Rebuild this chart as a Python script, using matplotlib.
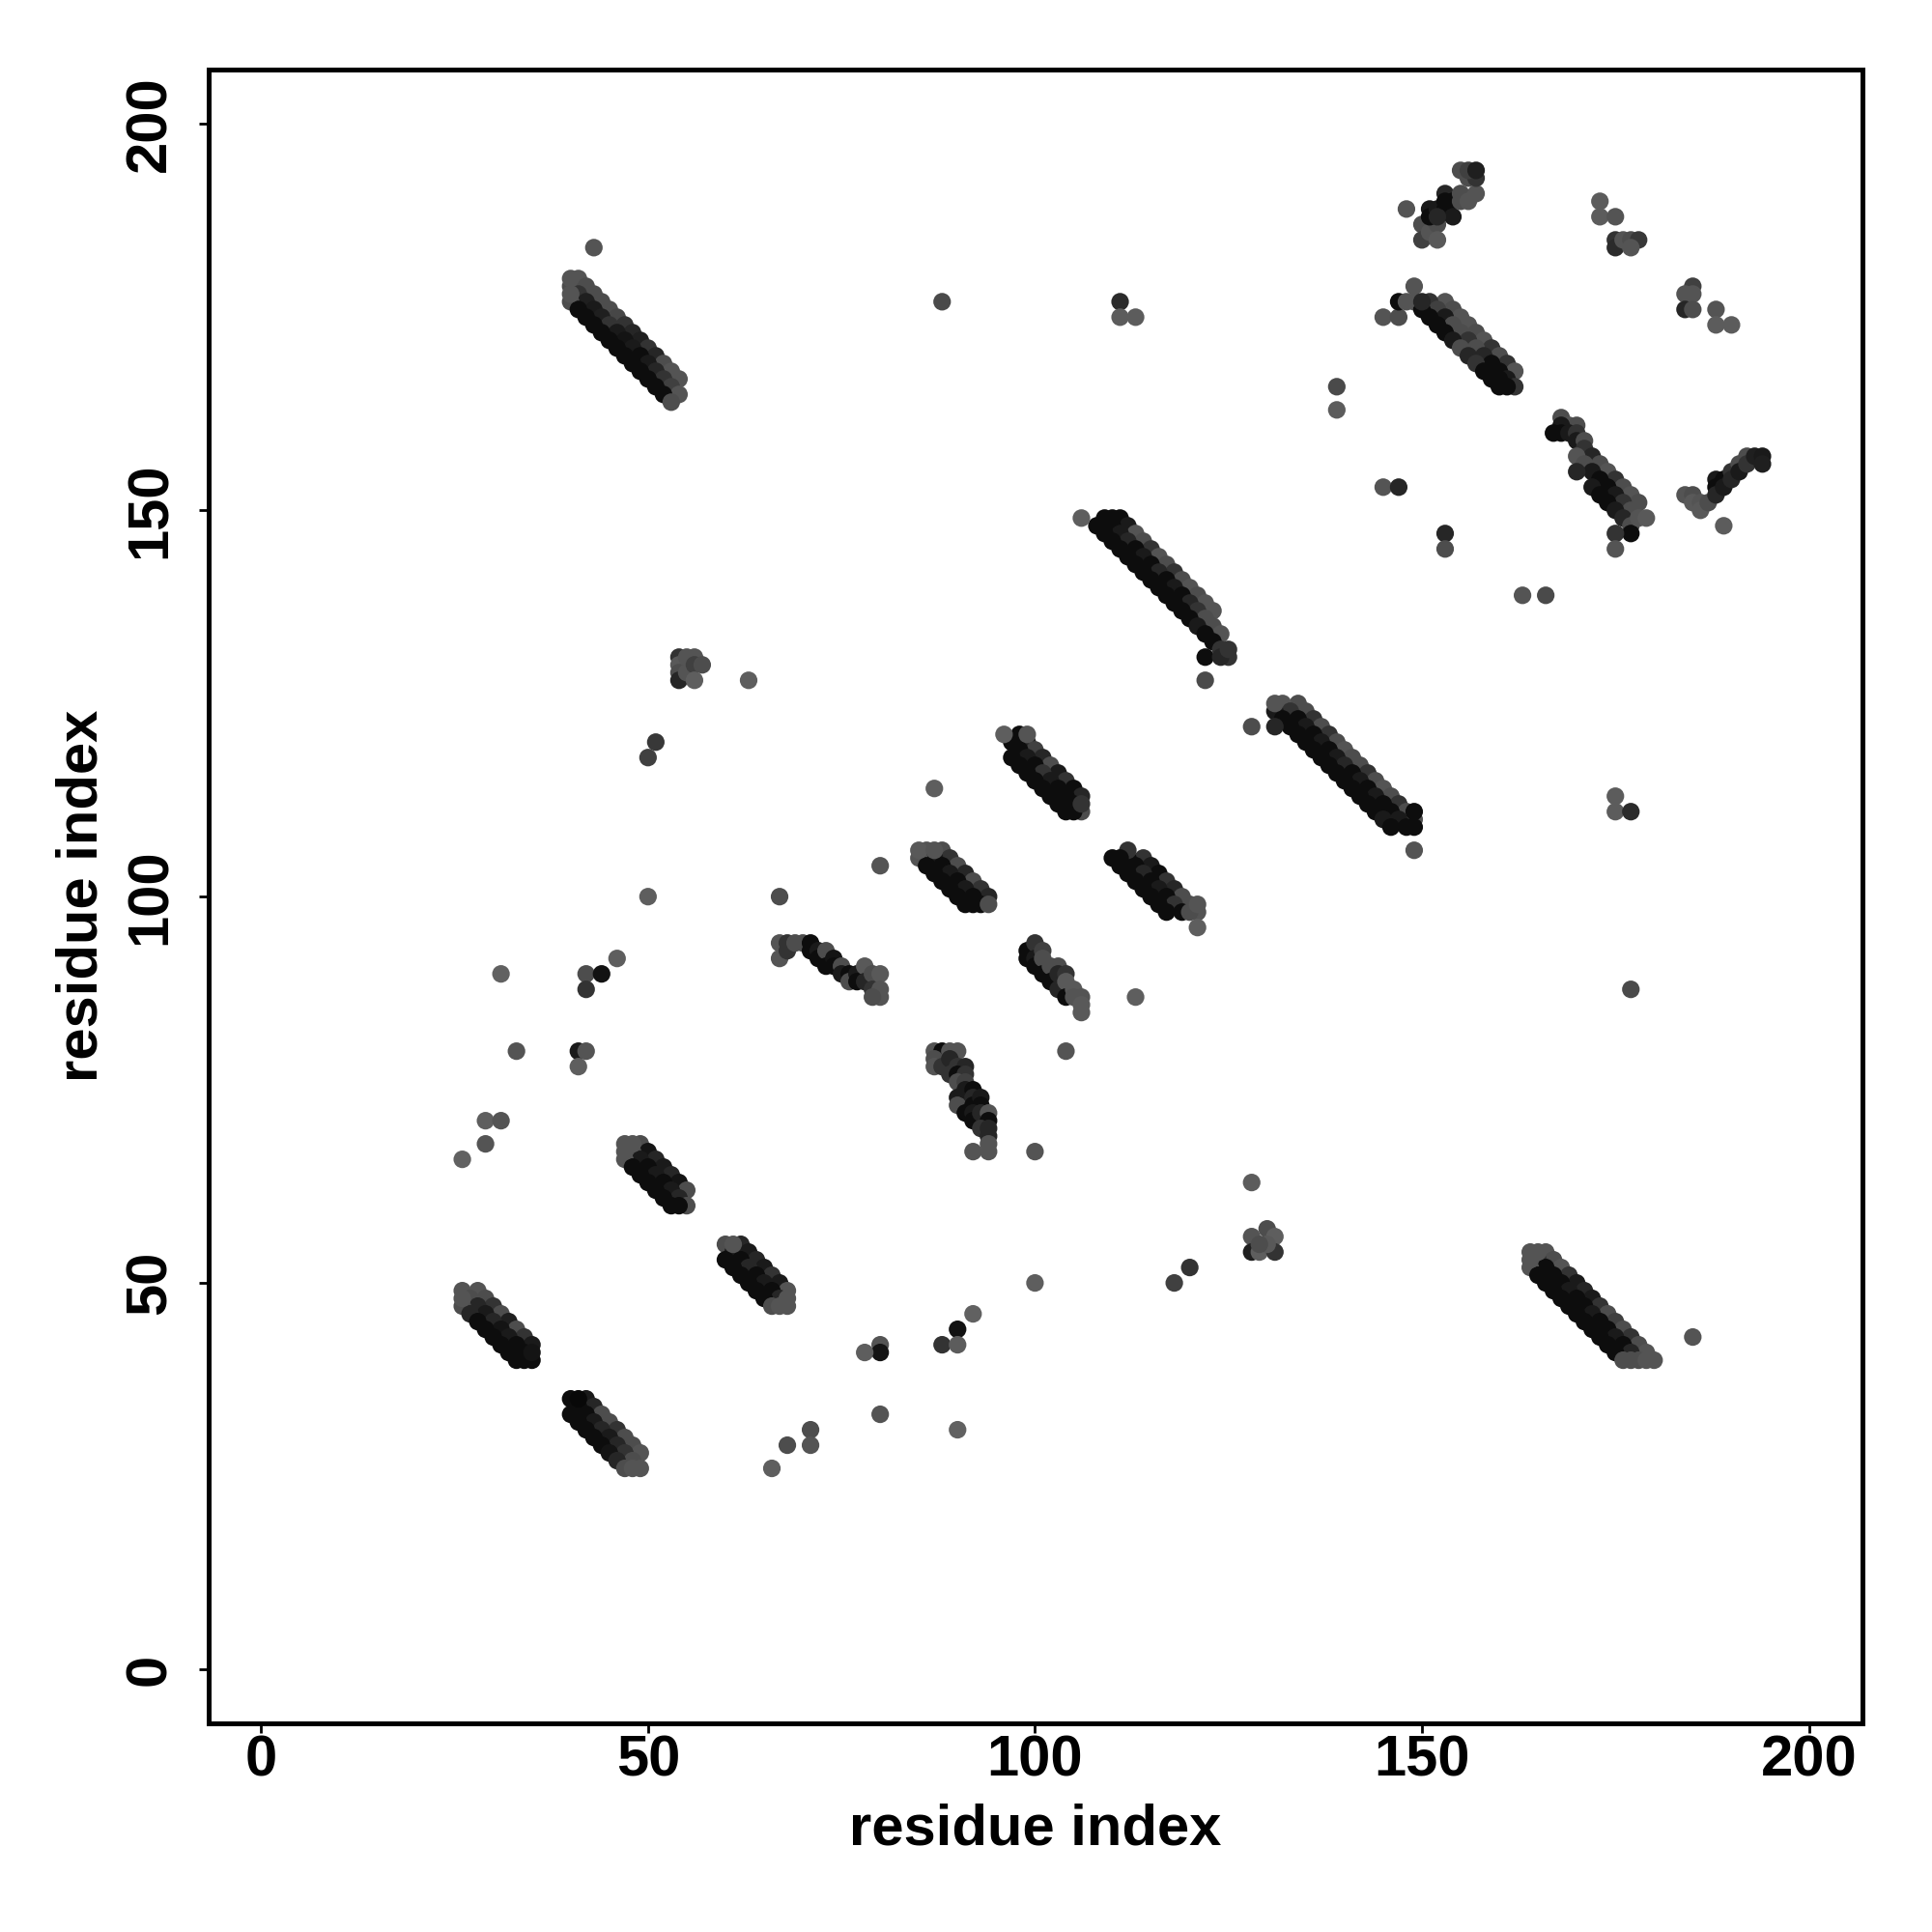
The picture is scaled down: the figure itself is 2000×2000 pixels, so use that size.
import matplotlib
matplotlib.use('Agg')
import matplotlib.pyplot as plt

plt.rcParams['font.family'] = ['Liberation Sans', 'DejaVu Sans']
plt.rcParams['font.weight'] = 'bold'

# contacts as (residue i, residue j, grey level) -- 0 = black, 0.4 = mid grey
band_a = [(41,180,.33),(42,179,.3),(43,178,.3),(44,177,.3),(45,176,.3),(46,175,.28),(47,174,.2),(48,173,.15),
          (49,172,.12),(50,171,.2),(51,170,.15),(52,169,.3),(53,168,.33),(54,167,.33),
          (40,179,.3),(41,178,.2),(42,177,.12),(43,176,.1),(44,175,.12),(45,174,.2),(46,173,.1),(47,172,.08),
          (48,171,.1),(49,170,.05),(50,169,.1),(51,168,.15),(52,167,.2),(53,166,.25),(54,165,.33),
          (40,177,.3),(41,176,.05),(42,175,.05),(43,174,.05),(44,173,.05),(45,172,.05),(46,171,.05),(47,170,.05),
          (48,169,.05),(49,168,.05),(50,167,.05),(51,166,.05),(52,165,.05),(53,164,.3),
          (40,180,.33),(40,178,.33)]
band_b = [(28,49,.33),(29,48,.3),(30,47,.2),(31,46,.3),(32,45,.12),(33,44,.3),(34,43,.2),(35,42,.1),
          (26,49,.33),(27,48,.3),(28,47,.15),(29,46,.1),(30,45,.15),(31,44,.08),(32,43,.1),(33,42,.05),(34,41,.05),(35,40,.05),
          (26,47,.3),(27,46,.15),(28,45,.05),(29,44,.05),(30,43,.05),(31,42,.05),(32,41,.05),(33,40,.05),
          (26,48,.33),(34,40,.05),(35,41,.08)]
band_c = [(42,35,.1),(43,34,.15),(44,33,.3),(45,32,.3),(46,31,.2),(47,30,.3),(48,29,.3),(49,28,.33),
          (40,35,.05),(41,34,.05),(42,33,.05),(43,32,.1),(44,31,.15),(45,30,.1),(46,29,.15),(47,28,.2),(48,27,.3),(49,26,.33),
          (40,33,.05),(41,32,.05),(42,31,.05),(43,30,.05),(44,29,.05),(45,28,.08),(46,27,.15),(47,26,.3),
          (41,35,.03),(48,26,.33)]
band_d = [(49,68,.3),(50,67,.08),(51,66,.15),(52,65,.1),(53,64,.15),(54,63,.08),(55,62,.3),
          (47,68,.33),(48,67,.3),(49,66,.1),(50,65,.05),(51,64,.1),(52,63,.05),(53,62,.1),(54,61,.15),(55,60,.3),
          (47,66,.33),(48,65,.05),(49,64,.05),(50,63,.05),(51,62,.05),(52,61,.05),(53,60,.05),
          (48,68,.33),(47,67,.33),(54,60,.05)]
band_e = [(62,55,.15),(63,54,.1),(64,53,.15),(65,52,.1),(66,51,.2),(67,50,.1),(68,49,.33),
          (60,55,.3),(61,54,.1),(62,53,.05),(63,52,.15),(64,51,.05),(65,50,.1),(66,49,.05),(67,48,.15),(68,47,.33),
          (60,53,.05),(61,52,.05),(62,51,.05),(63,50,.05),(64,49,.05),(65,48,.05),(66,47,.3),
          (61,55,.33),(67,47,.33),(68,48,.33)]
band_f = [(67,94,.33),(67,92,.33),(68,94,.2),(68,93,.2),(69,94,.3),(70,94,.3),(71,94,.05),(71,93,.05),
          (72,93,.1),(72,92,.05),(73,93,.3),(73,91,.05),(74,92,.08),(74,91,.05),(75,91,.3),(75,90,.1),
          (76,90,.05),(76,89,.3),(77,90,.1),(77,89,.05),(78,91,.35),(78,89,.15),(79,90,.3),(79,88,.2),
          (80,90,.35),(80,88,.33),(80,87,.33),(79,87,.3)]
band_g = [(88,106,.3),(89,105,.2),(90,104,.3),(91,103,.15),(92,102,.3),(93,101,.2),(94,100,.15),
          (86,106,.33),(87,105,.1),(88,104,.05),(89,103,.1),(90,102,.05),(91,101,.1),(92,100,.05),(93,99,.05),
          (85,105,.33),(86,104,.05),(87,103,.05),(88,102,.05),(89,101,.05),(90,100,.05),(91,99,.05),
          (85,106,.35),(87,106,.33),(92,99,.05),(94,99,.3)]
band_h = [(87,80,.33),(88,80,.05),(89,80,.33),(90,80,.33),(87,79,.3),(87,78,.33),(88,78,.2),(89,79,.15),
          (89,77,.2),(90,78,.2),(91,78,.15),(90,77,.05),(91,77,.2),(90,76,.3),(91,76,.25),(90,74,.1),
          (90,73,.3),(91,75,.1),(92,75,.05),(92,74,.15),(92,73,.05),(93,74,.1),(93,73,.05),(91,72,.05),
          (92,72,.1),(92,71,.05),(93,72,.15),(94,72,.33),(94,71,.05),(93,70,.2),(94,70,.15),(94,69,.15),
          (94,68,.33),(94,67,.33),(92,67,.33)]
band_i = [(98,121,.05),(99,120,.15),(100,119,.25),(101,118,.15),(102,117,.3),(103,116,.1),(104,115,.2),(105,114,.05),(106,113,.15),
          (97,120,.05),(98,119,.05),(99,118,.1),(100,117,.05),(101,116,.2),(102,115,.1),(103,114,.05),(104,113,.05),(105,112,.05),(106,111,.3),
          (97,118,.05),(98,117,.05),(99,116,.05),(100,115,.05),(101,114,.05),(102,113,.05),(103,112,.05),(104,111,.05),
          (96,121,.37),(99,121,.33),(105,111,.05),(106,112,.2)]
band_j = [(99,93,.05),(99,92,.05),(100,94,.2),(100,92,.1),(100,91,.05),(101,93,.25),(101,92,.3),(101,90,.05),
          (102,91,.3),(102,89,.05),(103,91,.3),(103,90,.15),(103,88,.15),(104,90,.2),(104,89,.35),(104,87,.05),
          (105,88,.35),(105,87,.33),(106,87,.33),(106,86,.35),(106,85,.35)]
band_k = [(114,105,.2),(115,104,.1),(116,103,.05),(117,102,.2),(118,101,.15),(119,100,.3),(120,99,.3),(121,98,.33),
          (112,105,.05),(113,104,.05),(114,103,.15),(115,102,.05),(116,101,.1),(117,100,.05),(118,99,.2),(119,98,.05),
          (110,105,.05),(111,104,.05),(112,103,.05),(113,102,.05),(114,101,.05),(115,100,.05),(116,99,.05),(117,98,.05),
          (112,106,.2),(111,105,.05),(120,98,.3),(121,99,.33)]
band_l = [(111,149,.05),(112,148,.1),(113,147,.33),(114,146,.3),(115,145,.2),(116,144,.33),(117,143,.3),(118,142,.2),
          (119,141,.3),(120,140,.33),(121,139,.3),(122,138,.33),(123,137,.33),
          (109,149,.05),(110,148,.05),(111,147,.1),(112,146,.15),(113,145,.05),(114,144,.1),(115,143,.05),(116,142,.15),
          (117,141,.05),(118,140,.1),(119,139,.05),(120,138,.15),(121,137,.2),(122,136,.3),(123,135,.3),(124,134,.33),
          (108,148,.05),(109,147,.05),(110,146,.05),(111,145,.05),(112,144,.05),(113,143,.05),(114,142,.05),(115,141,.05),
          (116,140,.05),(117,139,.05),(118,138,.05),(119,137,.05),(120,136,.05),(121,135,.1),(122,134,.05),(123,133,.05),
          (124,132,.2),(125,131,.2),
          (106,149,.37),(110,149,.05),(122,131,.05),(124,131,.15),(125,132,.2),(122,128,.29)]
band_m = [(134,125,.3),(135,124,.3),(136,123,.2),(137,122,.3),(138,121,.2),(139,120,.3),(140,119,.33),(141,118,.3),
          (142,117,.3),(143,116,.2),(144,115,.3),(145,114,.33),(146,113,.3),(147,112,.2),(148,111,.3),(149,110,.33),
          (132,125,.33),(133,124,.2),(134,123,.05),(135,122,.1),(136,121,.05),(137,120,.1),(138,119,.05),(139,118,.1),
          (140,117,.15),(141,116,.05),(142,115,.1),(143,114,.05),(144,113,.1),(145,112,.05),(146,111,.05),(147,110,.1),(148,109,.05),
          (131,124,.1),(132,123,.05),(133,122,.05),(134,121,.05),(135,120,.05),(136,119,.05),(137,118,.05),(138,117,.05),
          (139,116,.05),(140,115,.05),(141,114,.05),(142,113,.05),(143,112,.05),(144,111,.05),(145,110,.1),(146,109,.05),
          (131,125,.33),(131,122,.15),(149,109,.05),(149,111,.05),(128,122,.3),(149,106,.33)]
band_n = [(166,54,.33),(167,53,.3),(168,52,.33),(169,51,.2),(170,50,.1),(171,49,.15),(172,48,.1),(173,47,.2),
          (174,46,.3),(175,45,.25),(176,44,.3),(177,43,.2),(178,42,.3),(179,41,.33),(180,40,.33),
          (164,54,.33),(165,53,.2),(166,52,.05),(167,51,.05),(168,50,.05),(169,49,.1),(170,48,.05),(171,47,.05),
          (172,46,.1),(173,45,.05),(174,44,.05),(175,43,.1),(176,42,.05),(177,41,.15),(178,40,.3),
          (164,52,.33),(165,51,.05),(166,50,.05),(167,49,.05),(168,48,.05),(169,47,.05),(170,46,.05),(171,45,.05),
          (172,44,.05),(173,43,.05),(174,42,.05),(175,41,.05),(176,40,.3),
          (165,54,.33),(164,53,.33),(177,40,.3),(179,40,.33),(185,43,.33)]
band_o = [(153,177,.33),(154,176,.3),(155,175,.33),(156,174,.33),(157,173,.3),(158,172,.33),(159,171,.2),(160,170,.3),
          (161,169,.2),(162,168,.33),
          (151,177,.2),(152,176,.25),(153,175,.1),(154,174,.3),(155,173,.3),(156,172,.2),(157,171,.3),(158,170,.15),
          (159,169,.05),(160,168,.05),(161,167,.1),(162,166,.2),
          (149,177,.33),(150,176,.05),(151,175,.05),(152,174,.05),(153,173,.05),(154,172,.1),(155,171,.3),(156,170,.15),
          (157,169,.2),(158,168,.05),(159,167,.05),(160,166,.05),
          (145,175,.33),(147,175,.3),(147,177,.05),(148,177,.33),(149,179,.33),(150,177,.15),(161,166,.05),(160,167,.05)]
band_p = [(168,162,.3),(169,161,.33),(170,161,.3),(168,161,.1),(167,160,.05),(168,160,.05),(169,160,.1),(170,160,.2),
          (170,159,.1),(171,159,.3),
          (171,158,.2),(172,157,.15),(173,156,.3),(174,155,.33),(175,154,.2),(176,153,.3),(177,152,.33),(178,151,.3),
          (170,157,.33),(171,156,.3),(172,155,.1),(173,154,.05),(174,153,.05),(175,152,.1),(176,151,.2),(177,150,.3),
          (170,155,.15),(172,153,.1),(173,152,.05),(174,151,.05),(175,150,.1),(176,149,.15),
          (177,148,.3),(177,147,.05),(178,149,.33),(179,149,.35),(175,147,.2),(175,145,.33)]
band_q = [(150,187,.3),(150,185,.25),(151,186,.33),(152,187,.3),(152,185,.35),(151,189,.1),(151,188,.05),(152,189,.1),
          (153,189,.05),(153,191,.15),(154,190,.05),(154,188,.1),(152,188,.15),(153,190,.05),(155,191,.3),(155,190,.3),
          (156,190,.33),(157,191,.33),(156,193,.3),(157,193,.2),(155,194,.3),(156,194,.25),(157,194,.12),(148,189,.33)]
band_r = [(184,152,.33),(185,152,.3),(185,151,.35),(186,151,.33),(186,150,.35),(187,151,.3),(188,154,.1),(188,153,.05),
          (188,152,.15),(189,154,.05),(189,153,.1),(190,155,.2),(190,154,.15),(191,156,.3),(191,155,.1),(192,157,.3),
          (192,156,.2),(193,157,.12),(194,157,.1),(194,156,.12),(189,148,.36)]
patches = [(54,131,.2),(54,130,.35),(54,129,.3),(54,128,.15),(55,131,.33),(55,129,.33),(56,131,.33),(56,130,.25),
           (56,128,.37),(57,130,.3),
           (128,56,.33),(130,57,.3),(131,56,.37),(128,54,.12),(129,54,.37),(131,54,.2),(130,55,.35),(129,55,.3),
           (173,190,.36),(173,188,.36),(175,188,.33),(175,185,.2),(175,184,.17),(176,185,.33),(177,185,.3),
           (178,185,.22),(177,184,.33),
           (185,179,.25),(185,178,.33),(184,178,.33),(184,176,.15),(185,176,.3),(188,176,.33),(188,174,.36),(190,174,.36)]
singles = [(43,184,.33),(88,177,.29),(111,177,.17),(111,175,.36),(113,175,.36),(139,166,.29),(139,163,.36),
           (145,153,.33),(147,153,.15),(153,147,.15),(153,145,.3),(163,139,.33),(166,139,.29),
           (175,113,.36),(175,111,.36),(177,111,.17),(177,88,.29),
           (63,128,.37),(51,120,.22),(50,118,.25),(80,104,.33),(67,100,.3),(50,100,.37),(31,90,.38),(42,90,.3),
           (44,90,.07),(42,88,.2),(46,92,.37),(87,114,.37),(121,96,.37),(113,87,.37),
           (33,80,.33),(41,80,.1),(42,80,.33),(41,78,.37),(29,71,.37),(31,71,.33),(29,68,.33),(26,66,.38),
           (80,42,.33),(80,41,.08),(78,41,.37),(80,33,.33),(71,31,.3),(71,29,.33),(68,29,.3),(66,26,.37),
           (104,80,.33),(100,67,.33),(128,63,.36),(120,52,.2),(118,50,.25),(100,50,.37),(92,46,.38),(90,44,.07),
           (88,42,.2),(90,42,.36),(90,31,.38)]

groups = [band_a, band_b, band_c, band_d, band_e, band_f, band_g, band_h, band_i, band_j,
          band_k, band_l, band_m, band_n, band_o, band_p, band_q, band_r, patches, singles]
pts = [p for g in groups for p in g]
xs = [p[0] for p in pts]
ys = [p[1] for p in pts]
cols = [(p[2], p[2], p[2]) for p in pts]

fig = plt.figure(figsize=(10, 10), dpi=200)
ax = fig.add_axes([0.1079, 0.108, 0.856, 0.8562])
ax.scatter(xs, ys, s=43, c=cols, linewidths=0)

ax.set_xlim(-6.8, 206.9)
ax.set_ylim(-7.0, 207.1)
ticks = [0, 50, 100, 150, 200]
ax.set_xticks(ticks)
ax.set_yticks(ticks)
ax.set_yticklabels([str(t) for t in ticks], rotation=90, va='center')

for sp in ax.spines.values():
    sp.set_linewidth(1.8)
ax.tick_params(axis='both', direction='out', length=3.6, width=1.0, labelsize=21.5)
ax.tick_params(axis='x', pad=0.5)
ax.tick_params(axis='y', pad=8)

ax.set_xlabel('residue index', fontsize=21.5, fontweight='bold')
ax.set_ylabel('residue index', fontsize=21.5, fontweight='bold')
ax.xaxis.set_label_coords(0.5, -0.0479)
ax.yaxis.set_label_coords(-0.0606, 0.5)

fig.savefig('out.png', dpi=200)
